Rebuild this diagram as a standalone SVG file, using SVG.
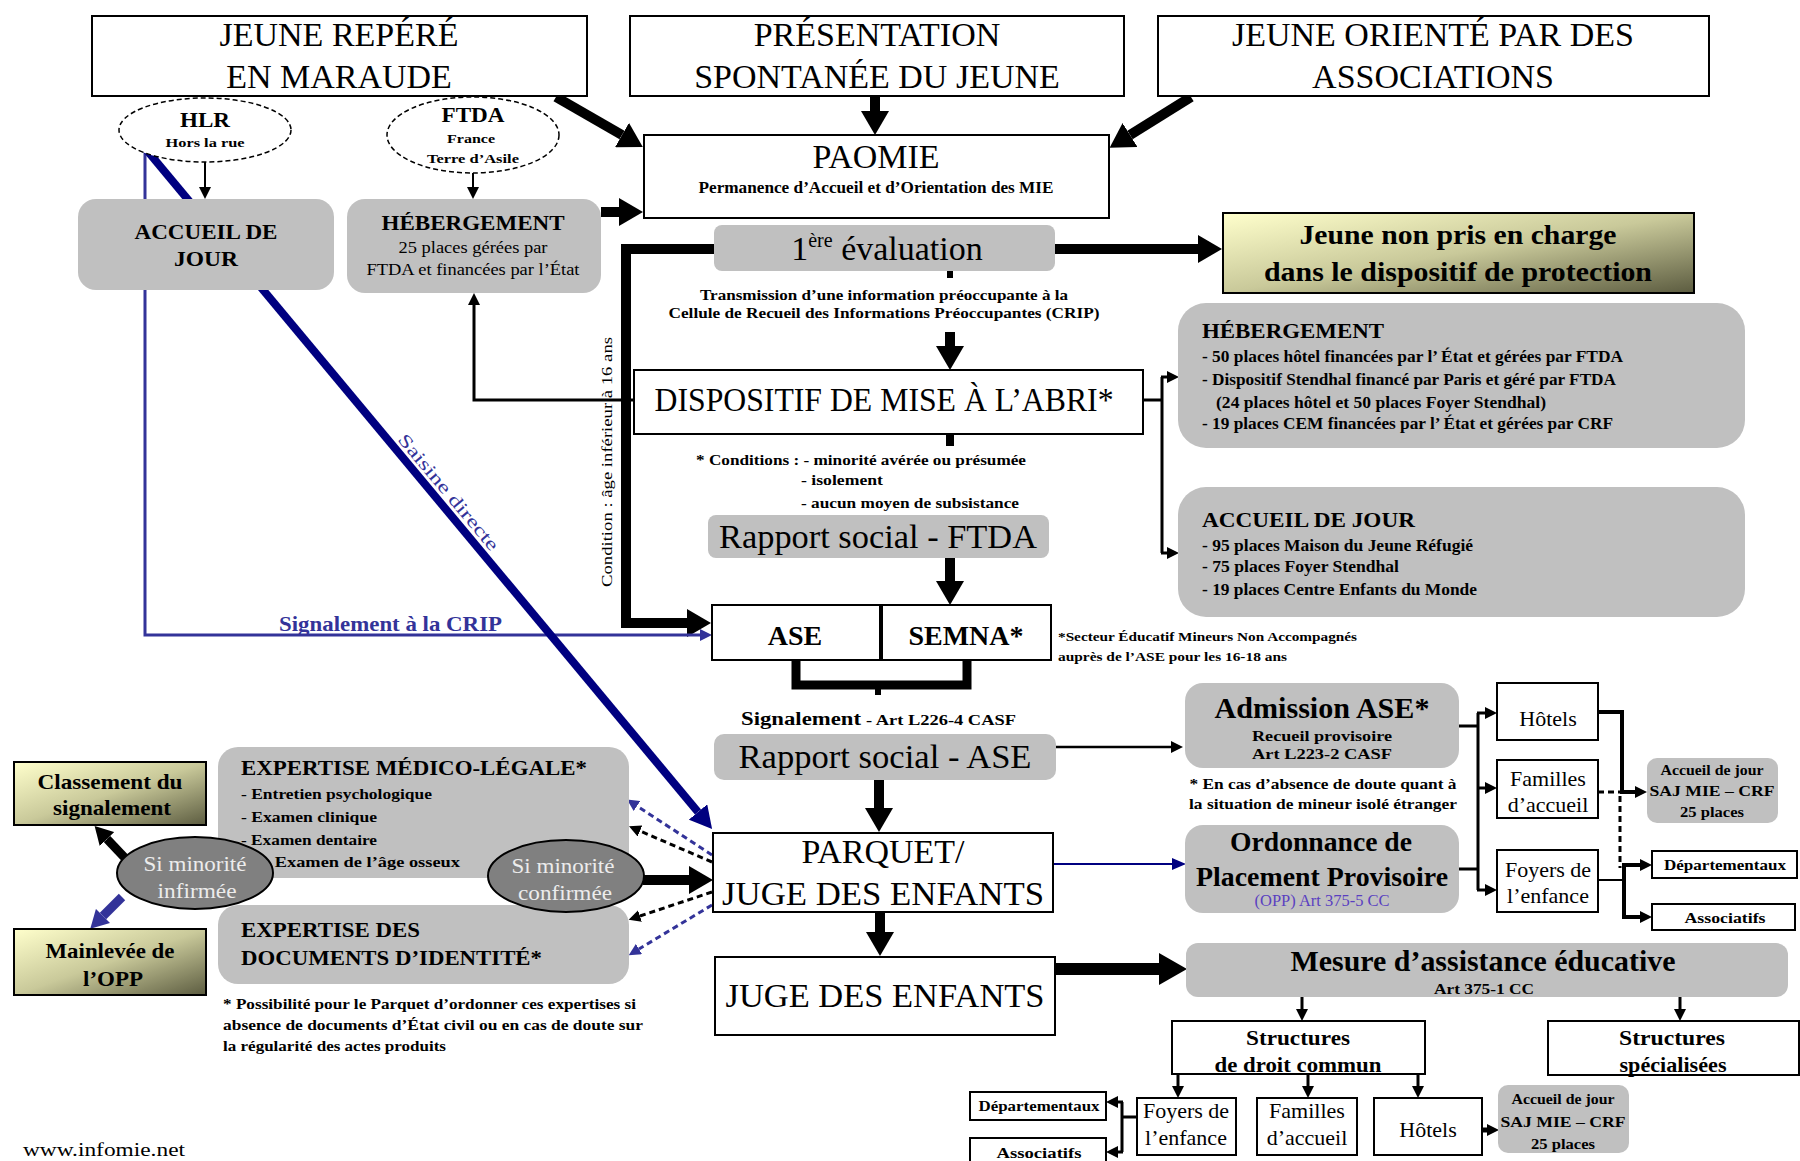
<svg xmlns="http://www.w3.org/2000/svg" width="1800" height="1161" viewBox="0 0 1800 1161">
<defs>
<style>
text{font-family:'Liberation Serif','Times New Roman',serif;fill:#000}
.big{font-size:34px}
.b{font-weight:bold}
.box{fill:#fff;stroke:#000;stroke-width:2}
.gray{fill:#c0c0c0}
.grad{fill:url(#olive);stroke:#000;stroke-width:2}
.ell{fill:#fff;stroke:#000;stroke-width:1.5;stroke-dasharray:5,3}
.dell{fill:#808080;stroke:#000;stroke-width:2}
.lt{fill:#ececec;font-size:21px}
.thick{fill:none;stroke:#000;stroke-width:10}
.med{fill:none;stroke:#000;stroke-width:3}
.thin{fill:none;stroke:#000;stroke-width:2}
.dash{fill:none;stroke:#000;stroke-width:3;stroke-dasharray:6,4}
.bdash{fill:none;stroke:#333399;stroke-width:3;stroke-dasharray:6,4}
.blue{fill:#333399}
</style>
<linearGradient id="olive" x1="0" y1="0" x2="1" y2="1">
<stop offset="0" stop-color="#ffffcc"/>
<stop offset="0.5" stop-color="#c9c99a"/>
<stop offset="1" stop-color="#5c5c40"/>
</linearGradient>
<marker id="hBig" viewBox="0 0 24 28" refX="0" refY="14" markerWidth="24" markerHeight="28" markerUnits="userSpaceOnUse" orient="auto"><path d="M0,0 L24,14 L0,28 z" fill="#000"/></marker>
<marker id="hXL" viewBox="0 0 28 32" refX="0" refY="16" markerWidth="28" markerHeight="32" markerUnits="userSpaceOnUse" orient="auto"><path d="M0,0 L28,16 L0,32 z" fill="#000"/></marker>
<marker id="hMid" viewBox="0 0 18 20" refX="0" refY="10" markerWidth="18" markerHeight="20" markerUnits="userSpaceOnUse" orient="auto"><path d="M0,0 L18,10 L0,20 z" fill="#000"/></marker>
<marker id="hSm" viewBox="0 0 12 12" refX="0" refY="6" markerWidth="12" markerHeight="12" markerUnits="userSpaceOnUse" orient="auto"><path d="M0,0 L12,6 L0,12 z" fill="#000"/></marker>
<marker id="hNavy" viewBox="0 0 22 24" refX="0" refY="12" markerWidth="22" markerHeight="24" markerUnits="userSpaceOnUse" orient="auto"><path d="M0,0 L22,12 L0,24 z" fill="#000080"/></marker>
<marker id="hNavySm" viewBox="0 0 14 12" refX="0" refY="6" markerWidth="14" markerHeight="12" markerUnits="userSpaceOnUse" orient="auto"><path d="M0,0 L14,6 L0,12 z" fill="#000080"/></marker>
<marker id="hBlueSm" viewBox="0 0 12 12" refX="0" refY="6" markerWidth="12" markerHeight="12" markerUnits="userSpaceOnUse" orient="auto"><path d="M0,0 L12,6 L0,12 z" fill="#333399"/></marker>
<marker id="hBlueMid" viewBox="0 0 18 20" refX="0" refY="10" markerWidth="18" markerHeight="20" markerUnits="userSpaceOnUse" orient="auto"><path d="M0,0 L18,10 L0,20 z" fill="#333399"/></marker>
</defs>
<rect width="1800" height="1161" fill="#fff"/>

<g id="connectors">
<!-- top arrows -->
<path class="thick" d="M556,97 L622,135" marker-end="url(#hBig)"/>
<path class="thick" d="M1191,97 L1130,135" marker-end="url(#hBig)"/>
<path class="thick" d="M875,97 V111" marker-end="url(#hBig)"/>
<path class="thin" d="M205,162 V187" marker-end="url(#hSm)"/>
<path class="thin" d="M473,173 V187" marker-end="url(#hSm)"/>
<path class="thick" d="M601,212 H619" marker-end="url(#hBig)"/>
<path class="thick" d="M1055,249 H1198" marker-end="url(#hBig)"/>
<path class="thick" d="M715,249 H626 V623 H687" marker-end="url(#hBig)"/>
<path d="M950,271 V278" stroke="#000" stroke-width="6"/>
<path class="thick" d="M950,332 V346" marker-end="url(#hBig)"/>
<path class="med" d="M636,400 H474 V305" marker-end="url(#hSm)"/>
<path class="med" d="M1143,400 H1162 M1162,377 V553"/>
<path class="med" d="M1161,377 H1167" marker-end="url(#hSm)"/>
<path class="med" d="M1161,553 H1167" marker-end="url(#hSm)"/>
<path d="M950,434 V446" stroke="#000" stroke-width="8"/>
<path class="thick" d="M950,558 V581" marker-end="url(#hBig)"/>
<path d="M796,660 V685 H967 V660" fill="none" stroke="#000" stroke-width="9"/>
<path d="M878,689 V695" stroke="#000" stroke-width="6"/>
<path fill="none" stroke="#000" stroke-width="2.5" d="M1056,747 H1171" marker-end="url(#hSm)"/>
<path class="thick" d="M879,780 V808" marker-end="url(#hBig)"/>
<path fill="none" stroke="#000080" stroke-width="2" d="M1053,864 H1172" marker-end="url(#hNavySm)"/>
<path class="thick" d="M880,912 V932" marker-end="url(#hBig)"/>
<path fill="none" stroke="#000" stroke-width="12" d="M1055,969 H1159" marker-end="url(#hXL)"/>
<!-- admission / opp bus -->
<path class="med" d="M1459,726 H1478 M1459,869 H1478 M1478,713 V890"/>
<path class="med" d="M1477,713 H1485" marker-end="url(#hSm)"/>
<path class="med" d="M1477,788 H1485" marker-end="url(#hSm)"/>
<path class="med" d="M1477,890 H1485" marker-end="url(#hSm)"/>
<path fill="none" stroke="#000" stroke-width="4" d="M1598,712 H1622 V792 H1635" marker-end="url(#hSm)"/>
<path class="dash" d="M1598,792 H1620 M1620,796 V868"/>
<path class="thin" d="M1598,880 H1624"/>
<path fill="none" stroke="#000" stroke-width="4" d="M1624,865 V917"/>
<path fill="none" stroke="#000" stroke-width="4" d="M1622,865 H1640" marker-end="url(#hSm)"/>
<path fill="none" stroke="#000" stroke-width="4" d="M1622,917 H1640" marker-end="url(#hSm)"/>
<!-- mesure -->
<path class="med" d="M1302,997 V1009" marker-end="url(#hSm)"/>
<path class="med" d="M1680,997 V1009" marker-end="url(#hSm)"/>
<path class="med" d="M1178,1074 V1086" marker-end="url(#hSm)"/>
<path class="med" d="M1308,1074 V1086" marker-end="url(#hSm)"/>
<path class="med" d="M1418,1074 V1086" marker-end="url(#hSm)"/>
<path fill="none" stroke="#000" stroke-width="5" d="M1482,1130 H1487" marker-end="url(#hSm)"/>
<path class="med" d="M1137,1117 H1122 M1122,1102 V1152"/>
<path class="med" d="M1123,1102 H1118" marker-end="url(#hSm)"/>
<path class="med" d="M1123,1152 H1118" marker-end="url(#hSm)"/>
<!-- blue left -->
<path fill="none" stroke="#333399" stroke-width="3" d="M145,150 V635 H700" marker-end="url(#hBlueSm)"/>
<text class="b" x="279" y="631" font-size="21" fill="#333399" style="fill:#333399" textLength="223" lengthAdjust="spacingAndGlyphs">Signalement à la CRIP</text>
<path fill="none" stroke="#000080" stroke-width="8" d="M145,148 L698,812" marker-end="url(#hNavy)"/>
<text transform="translate(444,496) rotate(50)" text-anchor="middle" font-size="18" style="fill:#333399" textLength="146" lengthAdjust="spacingAndGlyphs">Saisine directe</text>
<text transform="translate(612,462) rotate(-90)" text-anchor="middle" font-size="15" textLength="250" lengthAdjust="spacingAndGlyphs">Condition : âge inférieur à 16 ans</text>
<!-- expertise arrows -->
<path class="thick" d="M643,880 H689" marker-end="url(#hBig)"/>
<path fill="none" stroke="#000" stroke-width="9" d="M125,858 L107,839" marker-end="url(#hMid)"/>
<path fill="none" stroke="#333399" stroke-width="9" d="M122,897 L103,916" marker-end="url(#hBlueMid)"/>
<path class="bdash" d="M712,855 L637,806" marker-end="url(#hBlueSm)"/>
<path class="dash" d="M712,862 L640,831" marker-end="url(#hSm)"/>
<path class="dash" d="M712,892 L640,916" marker-end="url(#hSm)"/>
<path class="bdash" d="M712,905 L639,949" marker-end="url(#hBlueSm)"/>
</g>

<g id="n-maraude">
<rect class="box" x="92" y="16" width="495" height="80"/>
<text class="big" x="339" y="46" text-anchor="middle">JEUNE REPÉRÉ</text>
<text class="big" x="339" y="88" text-anchor="middle">EN MARAUDE</text>
</g>
<g id="n-presentation">
<rect class="box" x="630" y="16" width="494" height="80"/>
<text class="big" x="877" y="46" text-anchor="middle">PRÉSENTATION</text>
<text class="big" x="877" y="88" text-anchor="middle">SPONTANÉE DU JEUNE</text>
</g>
<g id="n-associations">
<rect class="box" x="1158" y="16" width="551" height="80"/>
<text class="big" x="1433" y="46" text-anchor="middle">JEUNE ORIENTÉ PAR DES</text>
<text class="big" x="1433" y="88" text-anchor="middle">ASSOCIATIONS</text>
</g>
<g id="n-hlr">
<ellipse class="ell" cx="205" cy="130" rx="86" ry="32"/>
<text class="b" x="205" y="127" text-anchor="middle" font-size="20" textLength="50" lengthAdjust="spacingAndGlyphs">HLR</text>
<text class="b" x="205" y="147" text-anchor="middle" font-size="13" textLength="79" lengthAdjust="spacingAndGlyphs">Hors la rue</text>
</g>
<g id="n-ftda">
<ellipse class="ell" cx="473" cy="135" rx="86" ry="38"/>
<text class="b" x="473" y="122" text-anchor="middle" font-size="20" textLength="63" lengthAdjust="spacingAndGlyphs">FTDA</text>
<text class="b" x="471" y="143" text-anchor="middle" font-size="13" textLength="48" lengthAdjust="spacingAndGlyphs">France</text>
<text class="b" x="473" y="163" text-anchor="middle" font-size="13" textLength="92" lengthAdjust="spacingAndGlyphs">Terre d’Asile</text>
</g>
<g id="n-accueil-jour-l">
<rect class="gray" x="78" y="199" width="256" height="91" rx="18"/>
<text class="b" x="206" y="239" text-anchor="middle" font-size="22" textLength="143" lengthAdjust="spacingAndGlyphs">ACCUEIL DE</text>
<text class="b" x="206" y="266" text-anchor="middle" font-size="22" textLength="64" lengthAdjust="spacingAndGlyphs">JOUR</text>
</g>
<g id="n-hebergement-l">
<rect class="gray" x="347" y="199" width="254" height="94" rx="18"/>
<text class="b" x="473" y="230" text-anchor="middle" font-size="22" textLength="183" lengthAdjust="spacingAndGlyphs">HÉBERGEMENT</text>
<text x="473" y="253" text-anchor="middle" font-size="16" textLength="149" lengthAdjust="spacingAndGlyphs">25 places gérées par</text>
<text x="473" y="275" text-anchor="middle" font-size="16" textLength="213" lengthAdjust="spacingAndGlyphs">FTDA et financées par l’État</text>
</g>
<g id="n-paomie">
<rect class="box" x="644" y="135" width="465" height="83"/>
<text class="big" x="876" y="168" text-anchor="middle">PAOMIE</text>
<text class="b" x="876" y="193" text-anchor="middle" font-size="16" textLength="355" lengthAdjust="spacingAndGlyphs">Permanence d’Accueil et d’Orientation des MIE</text>
</g>
<g id="n-evaluation">
<rect class="gray" x="714" y="225" width="341" height="46" rx="8"/>
<text class="big" x="887" y="260" text-anchor="middle">1<tspan font-size="20" dy="-13">ère</tspan><tspan dy="13"> évaluation</tspan></text>
</g>
<g id="n-nonpris">
<rect class="grad" x="1223" y="213" width="471" height="80"/>
<text class="b" x="1458" y="244" text-anchor="middle" font-size="27" textLength="317" lengthAdjust="spacingAndGlyphs">Jeune non pris en charge</text>
<text class="b" x="1458" y="281" text-anchor="middle" font-size="27" textLength="388" lengthAdjust="spacingAndGlyphs">dans le dispositif de protection</text>
</g>
<g id="n-crip">
<text class="b" x="884" y="300" text-anchor="middle" font-size="15" textLength="368" lengthAdjust="spacingAndGlyphs">Transmission d’une information préoccupante à la</text>
<text class="b" x="884" y="318" text-anchor="middle" font-size="15" textLength="431" lengthAdjust="spacingAndGlyphs">Cellule de Recueil des Informations Préoccupantes (CRIP)</text>
</g>
<g id="n-dispositif">
<rect class="box" x="634" y="370" width="509" height="64"/>
<text class="big" x="884" y="411" text-anchor="middle" textLength="459" lengthAdjust="spacingAndGlyphs">DISPOSITIF DE MISE À L’ABRI*</text>
</g>
<g id="n-hebergement-r">
<rect class="gray" x="1178" y="303" width="567" height="145" rx="28"/>
<text class="b" x="1202" y="338" font-size="22" textLength="182" lengthAdjust="spacingAndGlyphs">HÉBERGEMENT</text>
<text class="b" x="1202" y="362" font-size="16" textLength="421" lengthAdjust="spacingAndGlyphs">- 50 places hôtel financées par l’ État et gérées par FTDA</text>
<text class="b" x="1202" y="385" font-size="16" textLength="414" lengthAdjust="spacingAndGlyphs">- Dispositif Stendhal financé par Paris et géré par FTDA</text>
<text class="b" x="1216" y="408" font-size="16" textLength="330" lengthAdjust="spacingAndGlyphs">(24 places hôtel et 50 places Foyer Stendhal)</text>
<text class="b" x="1202" y="429" font-size="16" textLength="411" lengthAdjust="spacingAndGlyphs">- 19 places CEM financées par l’ État et gérées par CRF</text>
</g>
<g id="n-accueil-r">
<rect class="gray" x="1178" y="487" width="567" height="130" rx="28"/>
<text class="b" x="1202" y="527" font-size="22" textLength="213" lengthAdjust="spacingAndGlyphs">ACCUEIL DE JOUR</text>
<text class="b" x="1202" y="551" font-size="16" textLength="271" lengthAdjust="spacingAndGlyphs">- 95 places Maison du Jeune Réfugié</text>
<text class="b" x="1202" y="572" font-size="16" textLength="197" lengthAdjust="spacingAndGlyphs">- 75 places Foyer Stendhal</text>
<text class="b" x="1202" y="595" font-size="16" textLength="275" lengthAdjust="spacingAndGlyphs">- 19 places Centre Enfants du Monde</text>
</g>
<g id="n-conditions">
<text class="b" x="696" y="465" font-size="15" textLength="330" lengthAdjust="spacingAndGlyphs">* Conditions : - minorité avérée ou présumée</text>
<text class="b" x="801" y="485" font-size="15" textLength="82" lengthAdjust="spacingAndGlyphs">- isolement</text>
<text class="b" x="801" y="508" font-size="15" textLength="218" lengthAdjust="spacingAndGlyphs">- aucun moyen de subsistance</text>
</g>
<g id="n-rapport-ftda">
<rect class="gray" x="708" y="515" width="341" height="43" rx="8"/>
<text class="big" x="878" y="548" text-anchor="middle" textLength="318" lengthAdjust="spacingAndGlyphs">Rapport social - FTDA</text>
</g>
<g id="n-ase">
<rect class="box" x="712" y="605" width="339" height="55"/>
<line x1="881" y1="605" x2="881" y2="660" stroke="#000" stroke-width="4"/>
<text class="b" x="795" y="645" text-anchor="middle" font-size="28">ASE</text>
<text class="b" x="966" y="645" text-anchor="middle" font-size="28">SEMNA*</text>
</g>
<g id="n-semna-note">
<text class="b" x="1058" y="641" font-size="13.5" textLength="299" lengthAdjust="spacingAndGlyphs">*Secteur Éducatif Mineurs Non Accompagnés</text>
<text class="b" x="1058" y="661" font-size="13.5" textLength="229" lengthAdjust="spacingAndGlyphs">auprès de l’ASE pour les 16-18 ans</text>
</g>
<g id="n-signalement">
<text class="b" x="741" y="725" font-size="18" textLength="120" lengthAdjust="spacingAndGlyphs">Signalement</text>
<text class="b" x="866" y="725" font-size="14" textLength="150" lengthAdjust="spacingAndGlyphs">- Art L226-4 CASF</text>
</g>
<g id="n-rapport-ase">
<rect class="gray" x="714" y="734" width="342" height="46" rx="10"/>
<text class="big" x="885" y="768" text-anchor="middle" textLength="293" lengthAdjust="spacingAndGlyphs">Rapport social - ASE</text>
</g>
<g id="n-parquet">
<rect class="box" x="713" y="833" width="340" height="79"/>
<text class="big" x="883" y="863" text-anchor="middle">PARQUET/</text>
<text class="big" x="883" y="905" text-anchor="middle" textLength="322" lengthAdjust="spacingAndGlyphs">JUGE DES ENFANTS</text>
</g>
<g id="n-juge">
<rect class="box" x="715" y="957" width="340" height="78"/>
<text class="big" x="885" y="1007" text-anchor="middle" textLength="319" lengthAdjust="spacingAndGlyphs">JUGE DES ENFANTS</text>
</g>
<g id="n-admission">
<rect class="gray" x="1185" y="683" width="274" height="85" rx="18"/>
<text class="b" x="1322" y="718" text-anchor="middle" font-size="29" textLength="215" lengthAdjust="spacingAndGlyphs">Admission ASE*</text>
<text class="b" x="1322" y="741" text-anchor="middle" font-size="15" textLength="140" lengthAdjust="spacingAndGlyphs">Recueil provisoire</text>
<text class="b" x="1322" y="759" text-anchor="middle" font-size="15" textLength="140" lengthAdjust="spacingAndGlyphs">Art L223-2 CASF</text>
</g>
<g id="n-encas">
<text class="b" x="1323" y="789" text-anchor="middle" font-size="14" textLength="267" lengthAdjust="spacingAndGlyphs">* En cas d’absence de doute quant à</text>
<text class="b" x="1323" y="809" text-anchor="middle" font-size="14" textLength="268" lengthAdjust="spacingAndGlyphs">la situation de mineur isolé étranger</text>
</g>
<g id="n-opp">
<rect class="gray" x="1185" y="825" width="274" height="88" rx="18"/>
<text class="b" x="1321" y="851" text-anchor="middle" font-size="28" textLength="182" lengthAdjust="spacingAndGlyphs">Ordonnance de</text>
<text class="b" x="1322" y="886" text-anchor="middle" font-size="28" textLength="252" lengthAdjust="spacingAndGlyphs">Placement Provisoire</text>
<text x="1322" y="906" text-anchor="middle" font-size="16" style="fill:#5a3fc0" textLength="135" lengthAdjust="spacingAndGlyphs">(OPP) Art 375-5 CC</text>
</g>
<g id="n-hotels">
<rect class="box" x="1497" y="683" width="101" height="57"/>
<text x="1548" y="726" text-anchor="middle" font-size="22">Hôtels</text>
</g>
<g id="n-familles">
<rect class="box" x="1497" y="760" width="101" height="58"/>
<text x="1548" y="786" text-anchor="middle" font-size="22">Familles</text>
<text x="1548" y="812" text-anchor="middle" font-size="22">d’accueil</text>
</g>
<g id="n-foyers">
<rect class="box" x="1497" y="850" width="101" height="62"/>
<text x="1548" y="877" text-anchor="middle" font-size="22">Foyers de</text>
<text x="1548" y="903" text-anchor="middle" font-size="22">l’enfance</text>
</g>
<g id="n-saj1">
<rect class="gray" x="1647" y="758" width="131" height="65" rx="10"/>
<text class="b" x="1712" y="775" text-anchor="middle" font-size="15" textLength="103" lengthAdjust="spacingAndGlyphs">Accueil de jour</text>
<text class="b" x="1712" y="796" text-anchor="middle" font-size="15" textLength="125" lengthAdjust="spacingAndGlyphs">SAJ MIE – CRF</text>
<text class="b" x="1712" y="817" text-anchor="middle" font-size="15" textLength="64" lengthAdjust="spacingAndGlyphs">25 places</text>
</g>
<g id="n-dept1">
<rect class="box" x="1652" y="851" width="145" height="27"/>
<text class="b" x="1725" y="870" text-anchor="middle" font-size="15" textLength="122" lengthAdjust="spacingAndGlyphs">Départementaux</text>
</g>
<g id="n-assoc1">
<rect class="box" x="1652" y="904" width="143" height="26"/>
<text class="b" x="1725" y="923" text-anchor="middle" font-size="15" textLength="81" lengthAdjust="spacingAndGlyphs">Associatifs</text>
</g>
<g id="n-mesure">
<rect class="gray" x="1186" y="943" width="602" height="54" rx="12"/>
<text class="b" x="1483" y="971" text-anchor="middle" font-size="29" textLength="385" lengthAdjust="spacingAndGlyphs">Mesure d’assistance éducative</text>
<text class="b" x="1484" y="994" text-anchor="middle" font-size="15" textLength="100" lengthAdjust="spacingAndGlyphs">Art 375-1 CC</text>
</g>
<g id="n-droit-commun">
<rect class="box" x="1172" y="1021" width="253" height="53"/>
<text class="b" x="1298" y="1045" text-anchor="middle" font-size="21" textLength="104" lengthAdjust="spacingAndGlyphs">Structures</text>
<text class="b" x="1298" y="1072" text-anchor="middle" font-size="21" textLength="167" lengthAdjust="spacingAndGlyphs">de droit commun</text>
</g>
<g id="n-specialisees">
<rect class="box" x="1548" y="1021" width="251" height="54"/>
<text class="b" x="1672" y="1045" text-anchor="middle" font-size="21" textLength="106" lengthAdjust="spacingAndGlyphs">Structures</text>
<text class="b" x="1673" y="1072" text-anchor="middle" font-size="21" textLength="107" lengthAdjust="spacingAndGlyphs">spécialisées</text>
</g>
<g id="n-foyers2">
<rect class="box" x="1137" y="1098" width="99" height="57"/>
<text x="1186" y="1118" text-anchor="middle" font-size="22">Foyers de</text>
<text x="1186" y="1145" text-anchor="middle" font-size="22">l’enfance</text>
</g>
<g id="n-familles2">
<rect class="box" x="1257" y="1098" width="100" height="57"/>
<text x="1307" y="1118" text-anchor="middle" font-size="22">Familles</text>
<text x="1307" y="1145" text-anchor="middle" font-size="22">d’accueil</text>
</g>
<g id="n-hotels2">
<rect class="box" x="1374" y="1098" width="108" height="57"/>
<text x="1428" y="1137" text-anchor="middle" font-size="22">Hôtels</text>
</g>
<g id="n-saj2">
<rect class="gray" x="1498" y="1085" width="131" height="68" rx="10"/>
<text class="b" x="1563" y="1104" text-anchor="middle" font-size="15" textLength="103" lengthAdjust="spacingAndGlyphs">Accueil de jour</text>
<text class="b" x="1563" y="1127" text-anchor="middle" font-size="15" textLength="125" lengthAdjust="spacingAndGlyphs">SAJ MIE – CRF</text>
<text class="b" x="1563" y="1149" text-anchor="middle" font-size="15" textLength="64" lengthAdjust="spacingAndGlyphs">25 places</text>
</g>
<g id="n-dept2">
<rect class="box" x="970" y="1092" width="136" height="28"/>
<text class="b" x="1039" y="1111" text-anchor="middle" font-size="15" textLength="121" lengthAdjust="spacingAndGlyphs">Départementaux</text>
</g>
<g id="n-assoc2">
<rect class="box" x="970" y="1138" width="136" height="30"/>
<text class="b" x="1039" y="1158" text-anchor="middle" font-size="15" textLength="85" lengthAdjust="spacingAndGlyphs">Associatifs</text>
</g>
<g id="n-expertise-ml">
<rect class="gray" x="218" y="747" width="411" height="131" rx="20"/>
<text class="b" x="241" y="775" font-size="22" textLength="346" lengthAdjust="spacingAndGlyphs">EXPERTISE MÉDICO-LÉGALE*</text>
<text class="b" x="241" y="799" font-size="15" textLength="191" lengthAdjust="spacingAndGlyphs">- Entretien psychologique</text>
<text class="b" x="241" y="822" font-size="15" textLength="136" lengthAdjust="spacingAndGlyphs">- Examen clinique</text>
<text class="b" x="241" y="845" font-size="15" textLength="136" lengthAdjust="spacingAndGlyphs">- Examen dentaire</text>
<text class="b" x="264" y="867" font-size="15" textLength="196" lengthAdjust="spacingAndGlyphs">- Examen de l’âge osseux</text>
</g>
<g id="n-expertise-doc">
<rect class="gray" x="218" y="905" width="411" height="79" rx="20"/>
<text class="b" x="241" y="937" font-size="22" textLength="179" lengthAdjust="spacingAndGlyphs">EXPERTISE DES</text>
<text class="b" x="241" y="965" font-size="22" textLength="301" lengthAdjust="spacingAndGlyphs">DOCUMENTS D’IDENTITÉ*</text>
</g>
<g id="n-footnote">
<text class="b" x="223" y="1009" font-size="14" textLength="413" lengthAdjust="spacingAndGlyphs">* Possibilité pour le Parquet d’ordonner ces expertises si</text>
<text class="b" x="223" y="1030" font-size="14" textLength="420" lengthAdjust="spacingAndGlyphs">absence de documents d’État civil ou en cas de doute sur</text>
<text class="b" x="223" y="1051" font-size="14" textLength="223" lengthAdjust="spacingAndGlyphs">la régularité des actes produits</text>
</g>
<g id="n-classement">
<rect class="grad" x="14" y="762" width="192" height="63"/>
<text class="b" x="110" y="789" text-anchor="middle" font-size="21" textLength="145" lengthAdjust="spacingAndGlyphs">Classement du</text>
<text class="b" x="112" y="815" text-anchor="middle" font-size="21" textLength="118" lengthAdjust="spacingAndGlyphs">signalement</text>
</g>
<g id="n-mainlevee">
<rect class="grad" x="14" y="929" width="192" height="66"/>
<text class="b" x="110" y="958" text-anchor="middle" font-size="21" textLength="129" lengthAdjust="spacingAndGlyphs">Mainlevée de</text>
<text class="b" x="113" y="986" text-anchor="middle" font-size="21" textLength="60" lengthAdjust="spacingAndGlyphs">l’OPP</text>
</g>
<g id="n-infirmee">
<ellipse class="dell" cx="195" cy="873" rx="78" ry="36"/>
<text class="lt" x="195" y="871" text-anchor="middle" textLength="103" lengthAdjust="spacingAndGlyphs">Si minorité</text>
<text class="lt" x="197" y="898" text-anchor="middle" textLength="79" lengthAdjust="spacingAndGlyphs">infirmée</text>
</g>
<g id="n-confirmee">
<ellipse class="dell" cx="566" cy="876" rx="78" ry="36"/>
<text class="lt" x="563" y="873" text-anchor="middle" textLength="103" lengthAdjust="spacingAndGlyphs">Si minorité</text>
<text class="lt" x="565" y="900" text-anchor="middle" textLength="94" lengthAdjust="spacingAndGlyphs">confirmée</text>
</g>
<g id="n-www">
<text x="23" y="1156" font-size="18" textLength="162" lengthAdjust="spacingAndGlyphs">www.infomie.net</text>
</g>
</svg>
